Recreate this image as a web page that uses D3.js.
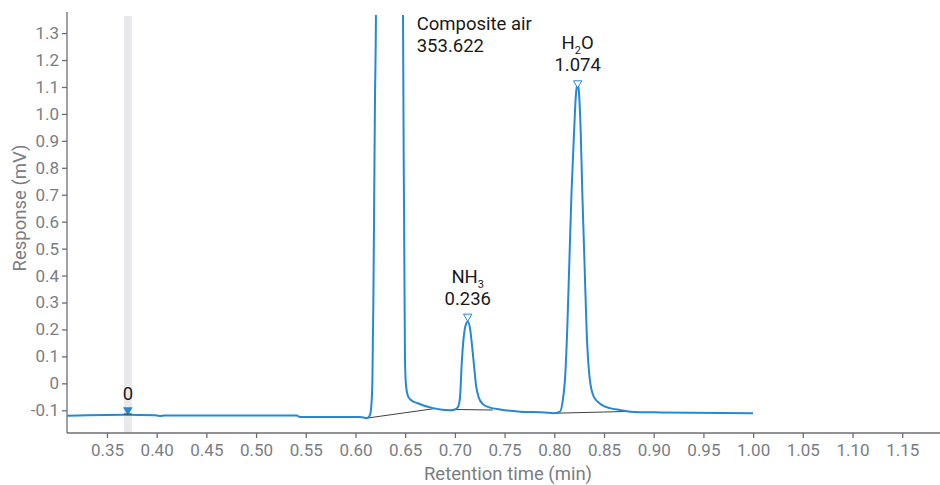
<!DOCTYPE html>
<meta charset="utf-8">
<style>
body { margin: 0; background: #fff; }
svg { font-family: Roboto, "Noto Sans", sans-serif; }
.axis path, .axis line { stroke: #6b6e73; stroke-width: 1.3; }
.axis text { fill: #7a7d82; font-size: 17px; font-family: Roboto, sans-serif; }
.title { fill: #7a7d82; font-size: 18.5px; }
.ann { fill: #1a1a1a; font-size: 18.5px; }
.trace { fill: none; stroke: #2488d4; stroke-width: 2; stroke-linejoin: round; }
.base { stroke: #3b3f45; stroke-width: 1; }
</style>
<body>
<svg width="940" height="485"></svg>
</body>
<script src="https://cdn.jsdelivr.net/npm/d3@7"></script>
<script>

// chromatogram trace
var timeMin = [0.310, 0.330, 0.368, 0.398, 0.403, 0.408, 0.541, 0.544, 0.6045, 0.6116,
  0.6146, 0.616, 0.617, 0.618, 0.6196, 0.6206, 0.634, 0.6478, 0.6488, 0.6498,
  0.6508, 0.6528, 0.6558, 0.6619, 0.678, 0.695, 0.7001, 0.7031, 0.7051, 0.7068,
  0.7086, 0.7106, 0.7129, 0.7152, 0.7172, 0.7192, 0.7212, 0.7242, 0.7282, 0.7353,
  0.7454, 0.7655, 0.7906, 0.799, 0.8057, 0.809, 0.8107, 0.813, 0.8152, 0.8174,
  0.820, 0.8217, 0.8235, 0.825, 0.8265, 0.8281, 0.8303, 0.8325, 0.8358, 0.8398,
  0.8477, 0.856, 0.866, 0.8762, 0.9063, 1.000];
var responseMv = [-0.120, -0.118, -0.117, -0.118, -0.121, -0.119, -0.119, -0.125, -0.125, -0.129,
  -0.117, -0.080, 0.010, 0.310, 1.050, 1.380, 353.622, 1.380, 0.680, 0.087,
  -0.006, -0.047, -0.062, -0.073, -0.092, -0.100, -0.097, -0.088, -0.055, 0.068,
  0.161, 0.213, 0.229, 0.205, 0.142, 0.068, -0.006, -0.055, -0.077, -0.090,
  -0.097, -0.105, -0.108, -0.111, -0.105, -0.050, 0.012, 0.198, 0.458, 0.717,
  0.941, 1.070, 1.113, 1.070, 0.941, 0.717, 0.458, 0.198, 0.012, -0.050,
  -0.080, -0.092, -0.099, -0.105, -0.108, -0.111];

// integration baselines [start time, start value, end time, end value]
var baselines = [
  [0.6116, -0.129, 0.681, -0.093],
  [0.700, -0.097, 0.738, -0.099],
  [0.799, -0.111, 0.877, -0.104]
];

// labelled peaks
var peakTimes = [0.7129, 0.8235];
var peakMarks = [0.248, 1.114];
var peakFormula = [["NH", "3", ""], ["H", "2", "O"]];
var peakAmounts = ["0.236", "1.074"];

var bigPeakName = "Composite air", bigPeakAmount = "353.622", bigPeakEdge = 0.6485;

var zeroTime = 0.371, zeroMark = -0.099, zeroLabel = "0";

var xTicks = [0.35, 0.40, 0.45, 0.50, 0.55, 0.60, 0.65, 0.70, 0.75, 0.80, 0.85, 0.90, 0.95, 1.00, 1.05, 1.10, 1.15];
var yTicks = [-0.1, 0, 0.1, 0.2, 0.3, 0.4, 0.5, 0.6, 0.7, 0.8, 0.9, 1.0, 1.1, 1.2, 1.3];
var yTickLabels = ["-0.1", "0", "0.1", "0.2", "0.3", "0.4", "0.5", "0.6", "0.7", "0.8", "0.9", "1.0", "1.1", "1.2", "1.3"];

var svg = d3.select("svg");
var plotL = 67, plotR = 940, plotT = 12, plotB = 433;

var x = d3.scaleLinear().domain([0.3098, 1.188]).range([plotL, plotR]);
var y = d3.scaleLinear().domain([-0.1843, 1.3783]).range([plotB, plotT]);

svg.append("defs").append("clipPath").attr("id", "plot")
  .append("rect").attr("x", plotL).attr("y", 15).attr("width", plotR - plotL).attr("height", plotB - 15);

// grey band at the zero marker
svg.append("rect")
  .attr("x", x(zeroTime) - 4).attr("y", 16)
  .attr("width", 8).attr("height", plotB - 16)
  .attr("fill", "#e8e9eb");

// axes
var xAxis = svg.append("g").attr("class", "axis")
  .attr("transform", "translate(0," + plotB + ")")
  .call(d3.axisBottom(x).tickValues(xTicks).tickFormat(d3.format(".2f")).tickSizeOuter(0).tickSize(5).tickPadding(6));
xAxis.select(".domain").attr("d", "M" + plotL + ",0H" + plotR);

var yAxis = svg.append("g").attr("class", "axis")
  .attr("transform", "translate(" + plotL + ",0)")
  .call(d3.axisLeft(y).tickValues(yTicks).tickFormat(function(d, i) { return yTickLabels[i]; }).tickSizeOuter(0).tickSize(5).tickPadding(3));
yAxis.select(".domain").attr("d", "M0," + plotT + "V" + plotB);

svg.append("text").attr("class", "title")
  .attr("x", 508).attr("y", 480)
  .attr("text-anchor", "middle")
  .text("Retention time (min)");

svg.append("text").attr("class", "title")
  .attr("transform", "translate(26,208) rotate(-90)")
  .attr("text-anchor", "middle")
  .text("Response (mV)");

// baselines
svg.append("g").selectAll("line")
  .data(baselines)
  .enter().append("line")
    .attr("class", "base")
    .attr("x1", function(d) { return x(d[0]); })
    .attr("y1", function(d) { return y(d[1]); })
    .attr("x2", function(d) { return x(d[2]); })
    .attr("y2", function(d) { return y(d[3]); });

// trace
var line = d3.line()
  .x(function(d, i) { return x(timeMin[i]); })
  .y(function(d) { return y(d); })
  .curve(d3.curveMonotoneX);

svg.append("path")
  .datum(responseMv)
  .attr("class", "trace")
  .attr("clip-path", "url(#plot)")
  .attr("d", line);

// zero marker
var tri = d3.symbol().type(d3.symbolTriangle).size(40);
svg.append("path")
  .attr("d", tri)
  .attr("transform", "translate(" + x(zeroTime) + "," + y(zeroMark) + ") rotate(180)")
  .attr("fill", "#2488d4");
svg.append("line").attr("class", "base")
  .attr("x1", x(zeroTime) - 4).attr("x2", x(zeroTime) + 4)
  .attr("y1", y(zeroMark) + 4).attr("y2", y(zeroMark) + 4);
svg.append("text").attr("class", "ann")
  .attr("x", x(zeroTime)).attr("y", y(zeroMark) - 10)
  .attr("text-anchor", "middle")
  .text(zeroLabel);

// peak markers and labels
var peaks = svg.append("g").selectAll("g")
  .data(peakTimes)
  .enter().append("g")
    .attr("transform", function(d, i) { return "translate(" + x(d) + "," + y(peakMarks[i]) + ")"; });

peaks.append("path")
  .attr("d", d3.symbol().type(d3.symbolTriangle).size(30))
  .attr("transform", "rotate(180)")
  .attr("fill", "#fff")
  .attr("stroke", "#2488d4")
  .attr("stroke-width", 1);

var formula = peaks.append("text").attr("class", "ann")
  .attr("y", -34)
  .attr("text-anchor", "middle");
formula.append("tspan").text(function(d, i) { return peakFormula[i][0]; });
formula.append("tspan").attr("font-size", "11px").attr("dy", 5).text(function(d, i) { return peakFormula[i][1]; });
formula.append("tspan").attr("dy", -5).text(function(d, i) { return peakFormula[i][2]; });

peaks.append("text").attr("class", "ann")
  .attr("y", -12)
  .attr("text-anchor", "middle")
  .text(function(d, i) { return peakAmounts[i]; });

svg.append("text").attr("class", "ann")
  .attr("x", x(bigPeakEdge) + 13).attr("y", 30)
  .text(bigPeakName);
svg.append("text").attr("class", "ann")
  .attr("x", x(bigPeakEdge) + 13).attr("y", 52)
  .text(bigPeakAmount);

</script>
